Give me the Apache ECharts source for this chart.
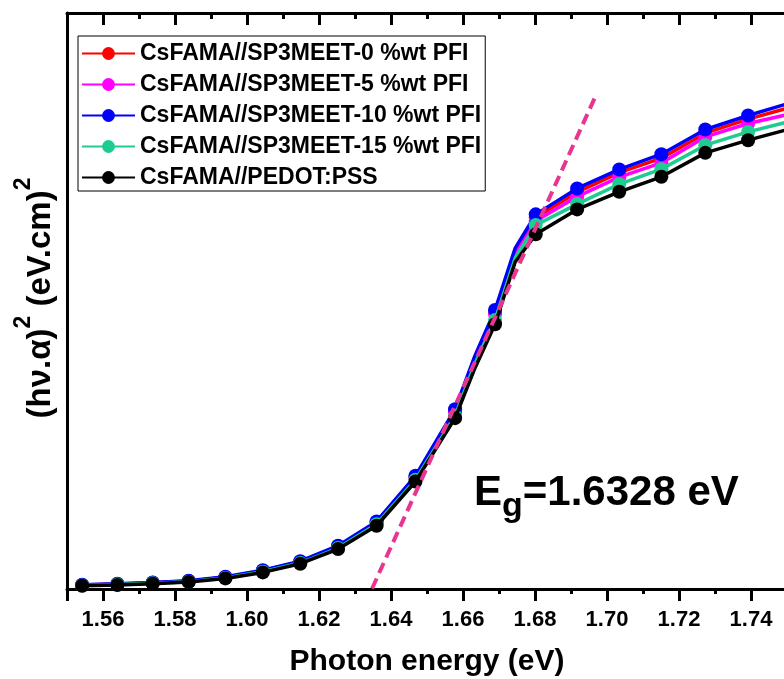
<!DOCTYPE html>
<html>
<head>
<meta charset="utf-8">
<title>Tauc plot</title>
<script src="https://cdn.jsdelivr.net/npm/echarts@6/dist/echarts.min.js"></script>
<style>
  html, body { margin: 0; padding: 0; background: #fff; }
  #chart { width: 784px; height: 679px; }
</style>
</head>
<body>
<div id="chart"></div>
<script>
// Photon energy (eV) of each sample point
const energy = [1.5542, 1.5640, 1.5738, 1.5838, 1.5940, 1.6044, 1.6148, 1.6253, 1.6360, 1.6468,
                1.6578, 1.6633, 1.6689, 1.6745, 1.6802, 1.6917, 1.7034, 1.7151, 1.7273, 1.7392, 1.7515];
// points drawn without a marker
const unmarkedEnergy = [1.6633, 1.6745];

// (hv.alpha)^2, arbitrary units
const pfi0  = [0.69, 0.87, 1.09, 1.39, 2.05, 3.17, 4.73, 7.42, 11.59, 19.48, 30.92, 40.11, 48.09, 58.67, 64.48, 68.90, 72.29, 74.80, 79.14, 81.57, 83.73];
const pfi5  = [0.66, 0.83, 1.06, 1.35, 2.01, 3.12, 4.65, 7.34, 11.50, 19.30, 30.66, 39.77, 47.74, 58.15, 63.88, 68.12, 71.50, 73.98, 78.49, 80.82, 82.55];
const pfi10 = [0.75, 0.92, 1.13, 1.44, 2.13, 3.26, 4.82, 7.51, 11.72, 19.65, 31.22, 40.46, 48.44, 59.19, 65.04, 69.54, 72.84, 75.49, 79.78, 82.21, 84.51];
const pfi15 = [0.61, 0.78, 0.99, 1.28, 1.93, 3.00, 4.51, 7.11, 11.24, 18.96, 30.06, 39.07, 46.70, 57.46, 63.18, 66.82, 70.29, 72.89, 77.05, 79.36, 81.30];
const pedot = [0.57, 0.69, 0.92, 1.21, 1.84, 2.88, 4.39, 6.94, 10.98, 18.66, 29.66, 38.33, 45.96, 56.76, 61.57, 65.90, 68.96, 71.56, 75.72, 77.92, 80.00];

const seriesNames = [
  'CsFAMA//SP3MEET-0 %wt PFI',
  'CsFAMA//SP3MEET-5 %wt PFI',
  'CsFAMA//SP3MEET-10 %wt PFI',
  'CsFAMA//SP3MEET-15 %wt PFI',
  'CsFAMA//PEDOT:PSS'
];
const seriesColors = ['#ff0000', '#ff00ff', '#0000ff', '#1fcc8f', '#000000'];
const seriesValues = [pfi0, pfi5, pfi10, pfi15, pedot];

// band gap from the linear extrapolation
const Eg = 1.6328;
const tangentStart = [Eg, -2.6];
const tangentEnd = [1.6972, 86.1];

const xTickLabels = ['1.56', '1.58', '1.60', '1.62', '1.64', '1.66', '1.68', '1.70', '1.72', '1.74'];

const FONT = '"Liberation Sans", Arial, sans-serif';

function buildData(values) {
  return energy.map((e, i) => {
    const item = { value: [e, values[i]] };
    if (unmarkedEnergy.includes(e)) item.symbol = 'none';
    return item;
  });
}

const curveSeries = seriesNames.map((name, k) => ({
  name: name,
  type: 'line',
  data: buildData(seriesValues[k]),
  symbol: 'circle',
  symbolSize: 14,
  showAllSymbol: true,
  lineStyle: { width: 3.5, color: seriesColors[k] },
  itemStyle: { color: seriesColors[k] },
  z: 2 + k
}));

const chart = echarts.init(document.getElementById('chart'), null, { renderer: 'canvas' });

const axisCommon = {
  type: 'value',
  min: 1.55,
  max: 1.75,
  splitNumber: 10,
  splitLine: { show: false },
  axisLine: { show: true, onZero: false, lineStyle: { color: '#000', width: 3 } },
  minorTick: { show: true, splitNumber: 2, length: 5, lineStyle: { color: '#000', width: 3 } },
  minorSplitLine: { show: false }
};

chart.setOption({
  animation: false,
  backgroundColor: '#fff',
  grid: { left: 67, right: -3, top: 13, bottom: 90, outerBoundsMode: 'none', containLabel: false },
  legend: {
    orient: 'vertical',
    left: 78,
    top: 36,
    padding: [6, 4, 2, 3],
    borderColor: '#000',
    borderWidth: 1,
    itemWidth: 53,
    itemHeight: 16,
    itemGap: 8,
    data: seriesNames,
    textStyle: { fontFamily: FONT, fontWeight: 'bold', fontSize: 23, color: '#000', lineHeight: 22 }
  },
  xAxis: [
    Object.assign({}, axisCommon, {
      position: 'bottom',
      name: 'Photon energy (eV)',
      nameLocation: 'middle',
      nameGap: 58,
      nameTextStyle: { fontFamily: FONT, fontWeight: 'bold', fontSize: 30, color: '#000' },
      axisTick: { show: true, inside: false, length: 12, lineStyle: { color: '#000', width: 3 } },
      axisLabel: {
        show: true, margin: 20, color: '#000',
        fontFamily: FONT, fontWeight: 'bold', fontSize: 22,
        formatter: v => {
          const s = v.toFixed(2);
          return xTickLabels.includes(s) ? s : '';
        }
      }
    }),
    Object.assign({}, axisCommon, {
      position: 'top',
      axisTick: { show: true, inside: true, length: 12, lineStyle: { color: '#000', width: 3 } },
      minorTick: { show: true, splitNumber: 2, length: 6, lineStyle: { color: '#000', width: 3 } },
      axisLabel: { show: false }
    })
  ],
  yAxis: {
    type: 'value',
    min: 0,
    max: 100,
    splitLine: { show: false },
    axisTick: { show: false },
    axisLabel: { show: false },
    axisLine: { show: true, lineStyle: { color: '#000', width: 3 } }
  },
  graphic: [
    {
      // y-axis title
      type: 'text',
      x: 35,
      y: 298,
      rotation: Math.PI / 2,
      style: {
        text: '{a|(hν.α)}{s|2}{a| (eV.cm)}{s|2}',
        align: 'center',
        verticalAlign: 'middle',
        rich: {
          a: { fontFamily: FONT, fontWeight: 'bold', fontSize: 33, fill: '#000', lineHeight: 45, verticalAlign: 'bottom' },
          s: { fontFamily: FONT, fontWeight: 'bold', fontSize: 23, fill: '#000', lineHeight: 45, verticalAlign: 'top' }
        }
      }
    },
    {
      type: 'text',
      left: 474,
      top: 472,
      style: {
        text: '{E|E}{g|g}{E|=' + Eg.toFixed(4) + ' eV}',
        rich: {
          E: { fontFamily: FONT, fontWeight: 'bold', fontSize: 42, fill: '#000', lineHeight: 52, verticalAlign: 'top' },
          g: { fontFamily: FONT, fontWeight: 'bold', fontSize: 34, fill: '#000', lineHeight: 52, verticalAlign: 'bottom' }
        }
      }
    }
  ],
  series: curveSeries.concat([{
    name: 'tangent',
    type: 'line',
    data: [tangentStart, tangentEnd],
    symbol: 'none',
    lineStyle: { color: '#e8358f', width: 4, type: [11, 6] },
    z: 10,
    silent: true
  }])
});
</script>
</body>
</html>
